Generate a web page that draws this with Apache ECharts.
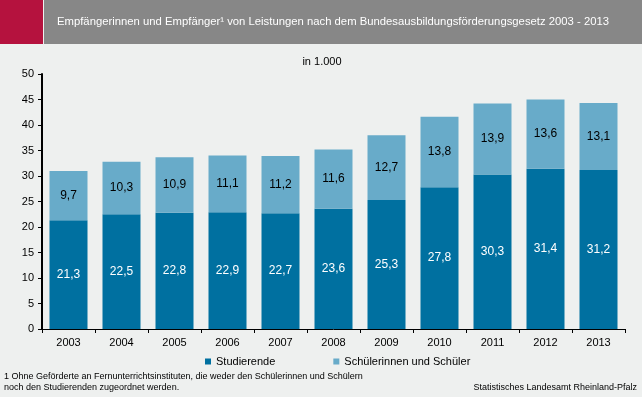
<!DOCTYPE html>
<html><head><meta charset="utf-8">
<script src="https://cdn.jsdelivr.net/npm/echarts@6/dist/echarts.min.js"></script>
<style>html,body{margin:0;padding:0;background:#eef0ef;}#c{width:642px;height:397px;}</style>
</head><body><div id="c"></div>
<script>
const years = ['2003','2004','2005','2006','2007','2008','2009','2010','2011','2012','2013'];
const studierende = [21.3,22.5,22.8,22.9,22.7,23.6,25.3,27.8,30.3,31.4,31.2];
const schueler = [9.7,10.3,10.9,11.1,11.2,11.6,12.7,13.8,13.9,13.6,13.1];
const chart = echarts.init(document.getElementById('c'));
const fmt = p => p.value.toFixed(1).replace('.', ',');
const F = 'Liberation Sans, Arial, sans-serif';
chart.setOption({
  backgroundColor: '#eef0ef',
  animation: false,
  graphic: [
    {type:'rect', shape:{x:0,y:0,width:43,height:44}, style:{fill:'#b5123e'}},
    {type:'rect', shape:{x:44,y:0,width:598,height:44}, style:{fill:'#878787'}},
    {type:'text', x:57, y:22, style:{text:'Empfängerinnen und Empfänger¹ von Leistungen nach dem Bundesausbildungsförderungsgesetz 2003 - 2013', fill:'#fff', font:'11.3px "Liberation Sans", Arial, sans-serif', verticalAlign:'middle'}},
    {type:'text', x:322, y:62, style:{text:'in 1.000', fill:'#000', font:'11px '+F, align:'center', verticalAlign:'middle'}},
    {type:'text', x:4, y:371, style:{text:'1 Ohne Geförderte an Fernunterrichtsinstituten, die weder den Schülerinnen und Schülern\nnoch den Studierenden zugeordnet werden.', fill:'#000', font:'9px "Liberation Sans", Arial, sans-serif', lineHeight:11}},
    {type:'text', x:637, y:388, style:{text:'Statistisches Landesamt Rheinland-Pfalz', fill:'#000', font:'9px "Liberation Sans", Arial, sans-serif', align:'right', verticalAlign:'middle'}}
  ],
  legend: {
    top: 351, left: 200, itemGap: 58, icon: 'rect', itemWidth: 6, itemHeight: 6,
    textStyle: {fontFamily: F, fontSize: 11, color: '#000'},
    data: ['Studierende', 'Schülerinnen und Schüler']
  },
  grid: {left: 42, right: 17, top: 74, bottom: 68, containLabel: false},
  xAxis: {
    type: 'category', data: years,
    axisLine: {lineStyle: {color: '#000', width: 1}},
    axisTick: {show: true, alignWithLabel: false, length: 4, lineStyle: {color: '#000'}},
    axisLabel: {fontFamily: F, fontSize: 11, color: '#000', margin: 8}
  },
  yAxis: {
    type: 'value', min: 0, max: 50, interval: 5,
    axisLine: {show: true, lineStyle: {color: '#000', width: 2}},
    axisTick: {show: true, length: 4, lineStyle: {color: '#000'}},
    splitLine: {show: false},
    axisLabel: {fontFamily: F, fontSize: 11, color: '#000', margin: 8}
  },
  series: [
    {name: 'Studierende', type: 'bar', stack: 's', data: studierende, barWidth: 38,
     itemStyle: {color: '#0070a0'},
     label: {show: true, position: 'inside', color: '#fff', fontFamily: F, fontSize: 12, formatter: fmt}},
    {name: 'Schülerinnen und Schüler', type: 'bar', stack: 's', data: schueler, barWidth: 38,
     itemStyle: {color: '#68abc9'},
     label: {show: true, position: 'inside', color: '#000', fontFamily: F, fontSize: 12, formatter: fmt}}
  ]
});
</script></body></html>
